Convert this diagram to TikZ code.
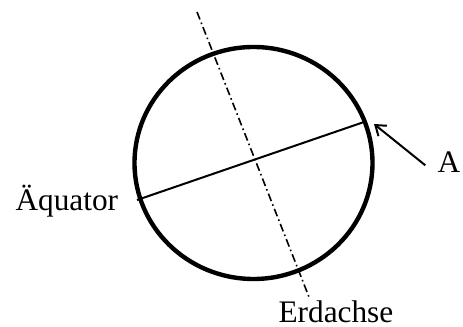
\documentclass[tikz,border=0pt]{standalone}
\usepackage{fontspec}
\setmainfont{Liberation Serif}
\usetikzlibrary{arrows.meta}

\tikzset{every picture/.style={line width=0.75pt}}

\begin{document}
\begin{tikzpicture}[
            x=0.75pt,
            y=0.75pt,
            yscale=-1,
            xscale=1,
            every node/.style={text=black,font=\fontsize{23.5}{28}\selectfont},
            every path/.style={draw=black},
            line width=0.75pt
        ]
            \useasboundingbox[draw=none] (0,0) rectangle (463,327);
            % Erde
            \draw [line width=3.3pt]  (253.5,163) ellipse [x radius=119, y radius=116];
            \coordinate (qlinks) at (137,200);
            \coordinate (qrechts) at (364,122);
            \coordinate (nord) at (197,12);
            \coordinate (sued) at (309,297);
            \coordinate (pA) at (374,124);

            \draw [line width=1.5pt]  (qlinks) -- (qrechts) ;
            \draw [line width=1.2pt, dash pattern=on 6pt off 2.5pt on 1.2pt off 2.5pt]  (nord) -- (sued) ;

            \draw (14,211) node [anchor=base west][inner sep=0.75pt] (aeq) {Äquator};
            \draw (277,322) node [anchor=base west][inner sep=0.75pt] (achse) {Erdachse};
            \draw (436,173) node [anchor=base west][inner sep=0.75pt] (lblA) {A};

            \draw [line width=1.5pt, -{Straight Barb[length=7pt,width=10pt]}]  ([xshift=-8pt,yshift=2pt]lblA.west) -- (pA) ;
        \end{tikzpicture}
\end{document}
